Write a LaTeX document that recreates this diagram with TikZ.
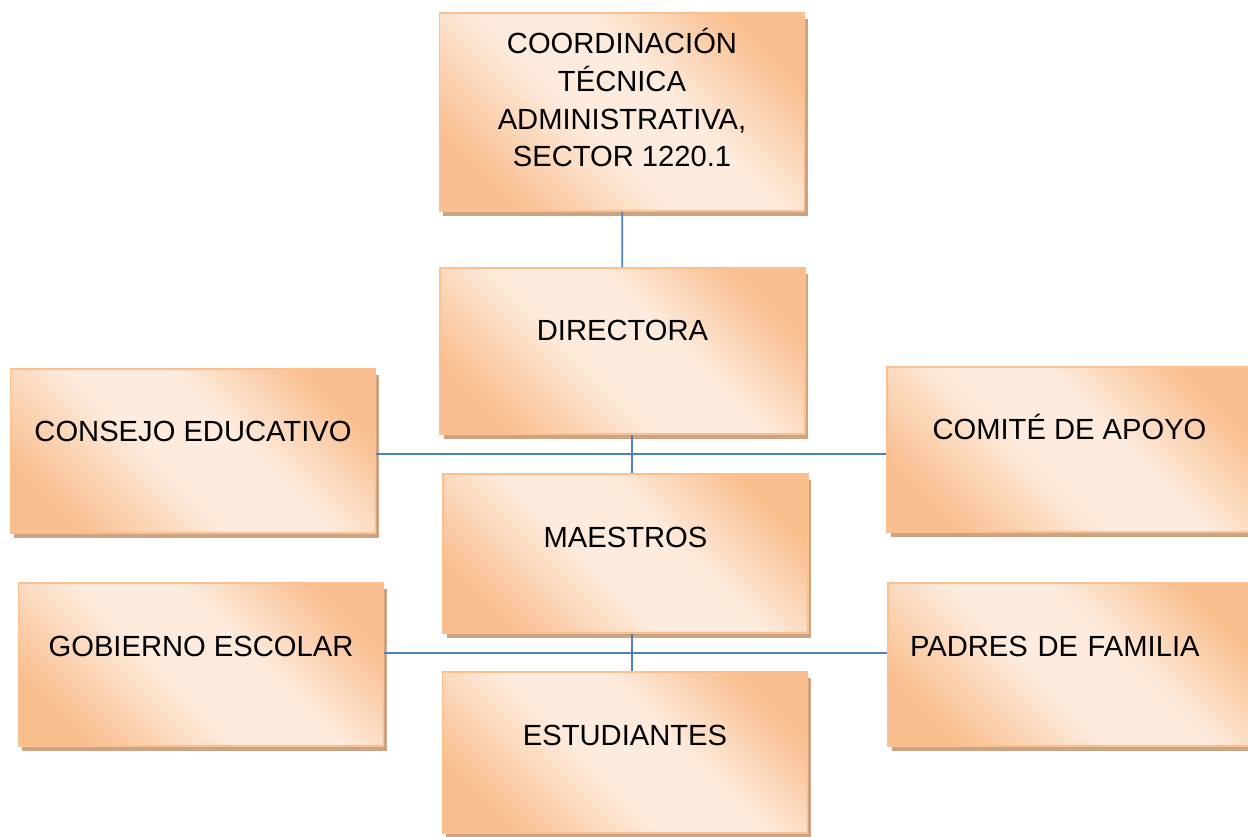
\documentclass[tikz,border=0pt]{standalone}
\usepackage{fontspec}
\setmainfont{Liberation Sans}
\usetikzlibrary{shadows}

\definecolor{peachdark}{RGB}{249,190,142}
\definecolor{peachlight}{RGB}{253,235,221}
\definecolor{peachedge}{RGB}{250,192,144}
\definecolor{shadowtan}{RGB}{204,164,132}
\definecolor{linkblue}{RGB}{79,129,189}
\pgfdeclarehorizontalshading{peachband}{100bp}{color(0bp)=(peachdark); color(24bp)=(peachdark); color(44bp)=(peachlight); color(58bp)=(peachlight); color(76bp)=(peachdark); color(100bp)=(peachdark)}

\tikzstyle{orgbox} = [rectangle, minimum width=7.3cm, inner ysep=0pt, text centered, draw=peachedge, line width=1pt, shade, shading=peachband, shading angle=45, drop shadow={shadow xshift=0.07cm, shadow yshift=-0.11cm, fill=shadowtan, opacity=1}, font=\fontsize{16.6pt}{21.5pt}\selectfont, text height=1.46cm]
\tikzstyle{link} = [draw=linkblue, line width=1pt]

\begin{document}
\begin{tikzpicture}[x=0.02cm, y=-0.02cm]
 \useasboundingbox (0,0) rectangle (1248,837);

 \node (coord) [orgbox, align=center, text height=3.08cm, text depth=0.88cm] at (622,112) {COORDINACIÓN\\TÉCNICA\\ADMINISTRATIVA,\\SECTOR 1220.1};
 \node (dir) [orgbox, text depth=1.86cm] at (622.5,351) {DIRECTORA};
 \node (cons) [orgbox, text depth=1.82cm] at (193,451) {CONSEJO EDUCATIVO};
 \node (comi) [orgbox, text depth=1.84cm] at (1069.5,449.5) {COMITÉ DE APOYO};
 \node (maes) [orgbox, text depth=1.72cm] at (625.5,553.5) {MAESTROS};
 \node (gob) [orgbox, text depth=1.80cm] at (201,664.5) {GOBIERNO ESCOLAR};
 \node (pad) [orgbox, text depth=1.80cm, text width=6.42cm, inner xsep=0.44cm, align=left] at (1070.5,664.5) {PADRES DE FAMILIA};
 \node (est) [orgbox, text depth=1.76cm] at (625,752.5) {ESTUDIANTES};

 \coordinate (j1) at (632,454);
 \coordinate (j2) at (632,653);
 \draw [link] (coord) -- (dir);
 \draw [link] (cons.east |- j1) -- (comi.west |- j1);
 \draw [link] (dir.south -| j1) -- (maes.north -| j1);
 \draw [link] (gob.east |- j2) -- (pad.west |- j2);
 \draw [link] (maes.south -| j2) -- (est.north -| j2);
\end{tikzpicture}
\end{document}
